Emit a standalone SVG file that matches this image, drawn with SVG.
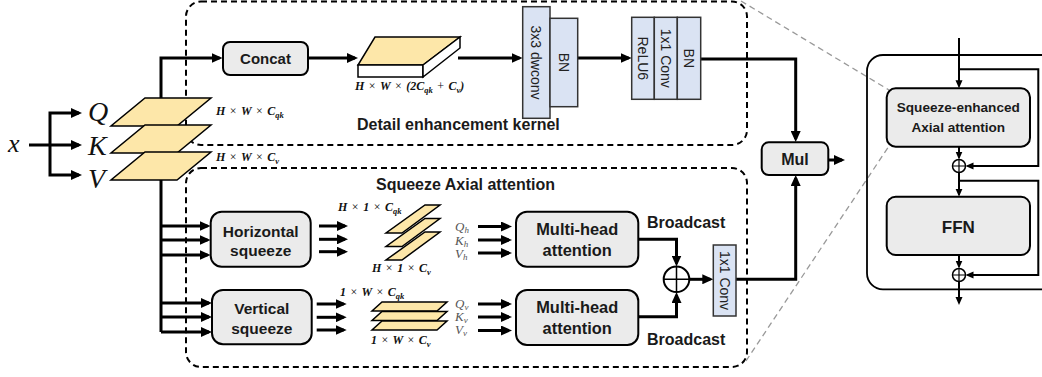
<svg xmlns="http://www.w3.org/2000/svg" width="1042" height="377" viewBox="0 0 1042 377">
<style>
.box{fill:#ebebeb;stroke:#000;stroke-width:2}
.blue{fill:#dae3f3;stroke:#333;stroke-width:1.5}
.plane{fill:#fde7a9;stroke:#000;stroke-width:1.5;stroke-linejoin:miter}
.white{fill:#fff;stroke:#000;stroke-width:1.5}
.dash{fill:none;stroke:#000;stroke-width:2;stroke-dasharray:6 4}
.zoom{fill:none;stroke:#999;stroke-width:1.3;stroke-dasharray:6 4}
.wire{fill:none;stroke:#000;stroke-width:3}
.wire2{fill:none;stroke:#000;stroke-width:2}
.lbl{font-family:"Liberation Sans",Arial,sans-serif;font-weight:bold;fill:#1a1a1a;text-anchor:middle}
.title{font-family:"Liberation Sans",Arial,sans-serif;font-weight:bold;fill:#1a1a1a;font-size:16px}
.rot{font-family:"Liberation Sans",Arial,sans-serif;font-size:14px;fill:#222;text-anchor:middle}
.math{font-family:"Liberation Serif","Times New Roman",serif;font-weight:bold;font-style:italic;font-size:12px;fill:#111;word-spacing:1.5px}
.op{font-weight:normal;font-style:normal}
.sub{font-size:8.5px}
.var{font-family:"Liberation Serif","Times New Roman",serif;font-style:italic;fill:#111}
.qkv{font-family:"Liberation Serif","Times New Roman",serif;font-style:italic;font-size:13px;fill:#555}
</style>
<defs>
<marker id="ah" markerUnits="userSpaceOnUse" markerWidth="12" markerHeight="10" refX="8" refY="5" orient="auto"><path d="M0,0 L11,5 L0,10 z" fill="#000"/></marker>
<marker id="as" markerUnits="userSpaceOnUse" markerWidth="9" markerHeight="8" refX="6" refY="3.5" orient="auto"><path d="M0,0 L8,3.5 L0,7 z" fill="#000"/></marker>
</defs>

<g id="frames">
<rect class="dash" x="186" y="1.5" width="561" height="143.5" rx="15"/>
<rect class="dash" x="186" y="168" width="561" height="199" rx="15"/>
<path class="zoom" d="M741,1 L889,90"/>
<path class="zoom" d="M746,361 L889,146"/>
<rect x="867" y="55" width="200" height="234.3" rx="16" fill="none" stroke="#000" stroke-width="1.8"/>
<text class="title" x="357" y="130">Detail enhancement kernel</text>
<text class="title" x="376" y="190">Squeeze Axial attention</text>
</g>

<g id="connectors">
<path class="wire" d="M29,145 H79" marker-end="url(#ah)"/>
<path class="wire" d="M50,145 V113 H79" marker-end="url(#ah)"/>
<path class="wire" d="M50,145 V175 H79" marker-end="url(#ah)"/>
<path class="wire" d="M161,332 V58 H219.5" marker-end="url(#ah)"/>
<path class="wire" d="M161,226 H207.5" marker-end="url(#ah)"/>
<path class="wire" d="M161,240 H207.5" marker-end="url(#ah)"/>
<path class="wire" d="M161,255 H207.5" marker-end="url(#ah)"/>
<path class="wire" d="M161,303 H209" marker-end="url(#ah)"/>
<path class="wire" d="M161,317 H209" marker-end="url(#ah)"/>
<path class="wire" d="M161,332 H209" marker-end="url(#ah)"/>
<path class="wire" d="M308,58 H355" marker-end="url(#ah)"/>
<path class="wire" d="M458,58 H519.5" marker-end="url(#ah)"/>
<path class="wire" d="M577.7,58 H628.7" marker-end="url(#ah)"/>
<path class="wire" d="M700.7,59 H795.7 V139" marker-end="url(#ah)"/>
<path class="wire" d="M828.3,160 H842" marker-end="url(#ah)"/>
<path class="wire" d="M319,226 H345" marker-end="url(#ah)"/>
<path class="wire" d="M319,239.3 H345" marker-end="url(#ah)"/>
<path class="wire" d="M319,251.7 H345" marker-end="url(#ah)"/>
<path class="wire" d="M316.7,304 H343.7" marker-end="url(#ah)"/>
<path class="wire" d="M316.7,317.3 H343.7" marker-end="url(#ah)"/>
<path class="wire" d="M316.7,330 H343.7" marker-end="url(#ah)"/>
<path class="wire" d="M478,226.5 H509" marker-end="url(#ah)"/>
<path class="wire" d="M478,240 H509" marker-end="url(#ah)"/>
<path class="wire" d="M478,253 H509" marker-end="url(#ah)"/>
<path class="wire" d="M478,304 H509" marker-end="url(#ah)"/>
<path class="wire" d="M478,317 H509" marker-end="url(#ah)"/>
<path class="wire" d="M478,330.5 H509" marker-end="url(#ah)"/>
<path class="wire" d="M638.3,239.3 H676.5 V263.5" marker-end="url(#ah)"/>
<path class="wire" d="M638.3,316.7 H676.5 V295" marker-end="url(#ah)"/>
<path class="wire" d="M689.3,279.3 H710.3" marker-end="url(#ah)"/>
<path class="wire" d="M736,279.3 H795.7 V178" marker-end="url(#ah)"/>
<path class="wire2" d="M959,38 V86.3" marker-end="url(#as)"/>
<path class="wire2" d="M959,69.3 H1038.3 V166 H967.5" marker-end="url(#as)"/>
<path class="wire2" d="M959,146.7 V157.5" marker-end="url(#as)"/>
<path class="wire2" d="M959,172.5 V194.7" marker-end="url(#as)"/>
<path class="wire2" d="M959,180.7 H1038.3 V275 H967.5" marker-end="url(#as)"/>
<path class="wire2" d="M959,255 V266.5" marker-end="url(#as)"/>
<path class="wire2" d="M959,281.5 V303" marker-end="url(#as)"/>
</g>

<g id="input">
<text class="var" x="8" y="152" font-size="26">x</text>
<text class="var" x="88" y="121" font-size="28">Q</text>
<text class="var" x="88" y="155" font-size="28">K</text>
<text class="var" x="88" y="188" font-size="28">V</text>
</g>

<g id="qkv-planes">
<polygon class="plane" points="145,98 211,98 177,126 111,126"/>
<polygon class="plane" points="145,125 211,125 177,153 111,153"/>
<polygon class="plane" points="145,152 211,152 177,180 111,180"/>
<text class="math" x="216" y="115">H <tspan class="op">×</tspan> W <tspan class="op">×</tspan> C<tspan class="sub" dy="3">qk</tspan></text>
<text class="math" x="216" y="161">H <tspan class="op">×</tspan> W <tspan class="op">×</tspan> C<tspan class="sub" dy="3">v</tspan></text>
</g>

<g id="concat">
<rect class="box" x="223" y="42" width="85" height="33" rx="7"/>
<text class="lbl" x="265.5" y="64" font-size="15">Concat</text>
</g>

<g id="cuboid">
<polygon class="plane" points="375,37 460,37 423,65 358,65"/>
<polygon class="white" points="358,65 423,65 423,77 358,77"/>
<polygon class="white" points="423,65 460,37 460,48 423,77"/>
<text class="math" x="355" y="90">H <tspan class="op">×</tspan> W <tspan class="op">×</tspan> (2C<tspan class="sub" dy="3">qk</tspan><tspan dy="-3"> </tspan><tspan class="op">+</tspan> C<tspan class="sub" dy="3">v</tspan><tspan dy="-3">)</tspan></text>
</g>

<g id="dwconv">
<rect class="blue" x="522.7" y="6.7" width="27.3" height="111.6"/>
<rect class="blue" x="550" y="18.3" width="27.7" height="88.4"/>
<text class="rot" transform="translate(536.3,62.5) rotate(90)" x="0" y="5">3x3 dwconv</text>
<text class="rot" transform="translate(563.8,62.5) rotate(90)" x="0" y="5">BN</text>
</g>

<g id="pwconv">
<rect class="blue" x="631.7" y="17.3" width="22.6" height="82"/>
<rect class="blue" x="654.3" y="17.3" width="23" height="82"/>
<rect class="blue" x="677.3" y="17.3" width="23.4" height="82"/>
<text class="rot" transform="translate(643,58.3) rotate(90)" x="0" y="5">ReLU6</text>
<text class="rot" transform="translate(665.8,58.3) rotate(90)" x="0" y="5">1x1 Conv</text>
<text class="rot" transform="translate(689,58.3) rotate(90)" x="0" y="5">BN</text>
</g>

<g id="mul">
<rect class="box" x="761.7" y="142.3" width="66.6" height="32.7" rx="7"/>
<text class="lbl" x="795" y="165" font-size="16">Mul</text>
</g>

<g id="hsqueeze">
<rect class="box" x="210.7" y="211.7" width="100" height="55" rx="11"/>
<text class="lbl" x="260.7" y="236.5" font-size="15.5">Horizontal</text>
<text class="lbl" x="260.7" y="256" font-size="15.5">squeeze</text>
</g>

<g id="vsqueeze">
<rect class="box" x="212" y="290" width="99.7" height="54.3" rx="11"/>
<text class="lbl" x="261.8" y="313.5" font-size="15.5">Vertical</text>
<text class="lbl" x="261.8" y="334" font-size="15.5">squeeze</text>
</g>

<g id="h-planes">
<polygon class="plane" points="425,205 440,205 402,233 386,233"/>
<polygon class="plane" points="425,218.5 440,218.5 402,246.5 386,246.5"/>
<polygon class="plane" points="425,232 440,232 402,260 386,260"/>
<text class="math" x="338" y="211">H <tspan class="op">×</tspan> 1 <tspan class="op">×</tspan> C<tspan class="sub" dy="3">qk</tspan></text>
<text class="math" x="372" y="272">H <tspan class="op">×</tspan> 1 <tspan class="op">×</tspan> C<tspan class="sub" dy="3">v</tspan></text>
<text class="qkv" x="455" y="231">Q<tspan font-size="9" dy="2">h</tspan></text>
<text class="qkv" x="455" y="244.5">K<tspan font-size="9" dy="2">h</tspan></text>
<text class="qkv" x="455" y="257.5">V<tspan font-size="9" dy="2">h</tspan></text>
</g>

<g id="v-planes">
<polygon class="plane" points="382,302 447,302 437,311 372,311"/>
<polygon class="plane" points="382,311.5 447,311.5 437,320.5 372,320.5"/>
<polygon class="plane" points="382,321 447,321 437,330 372,330"/>
<text class="math" x="340" y="295.5">1 <tspan class="op">×</tspan> W <tspan class="op">×</tspan> C<tspan class="sub" dy="3">qk</tspan></text>
<text class="math" x="371" y="344">1 <tspan class="op">×</tspan> W <tspan class="op">×</tspan> C<tspan class="sub" dy="3">v</tspan></text>
<text class="qkv" x="455" y="307.5">Q<tspan font-size="9" dy="2">v</tspan></text>
<text class="qkv" x="455" y="321">K<tspan font-size="9" dy="2">v</tspan></text>
<text class="qkv" x="455" y="334">V<tspan font-size="9" dy="2">v</tspan></text>
</g>

<g id="mha-h">
<rect class="box" x="516" y="211.7" width="122.3" height="55" rx="11"/>
<text class="lbl" x="577.2" y="235" font-size="16.4">Multi-head</text>
<text class="lbl" x="577.2" y="256" font-size="16.4">attention</text>
</g>

<g id="mha-v">
<rect class="box" x="516" y="290" width="122.3" height="55" rx="11"/>
<text class="lbl" x="577.2" y="313.3" font-size="16.4">Multi-head</text>
<text class="lbl" x="577.2" y="334.3" font-size="16.4">attention</text>
</g>

<g id="add">
<circle cx="676.5" cy="279.3" r="12.8" fill="#fff" stroke="#000" stroke-width="2"/>
<path d="M663.7,279.3 H689.3 M676.5,266.5 V292.1" stroke="#000" stroke-width="1.5"/>
<text class="title" x="647" y="228" font-size="14.3">Broadcast</text>
<text class="title" x="647" y="345" font-size="14.3">Broadcast</text>
</g>

<g id="conv1x1">
<rect class="blue" x="713.3" y="245" width="22.7" height="71"/>
<text class="rot" transform="translate(724.7,280.5) rotate(90)" x="0" y="5">1x1 Conv</text>
</g>

<g id="sea">
<rect class="box" x="886.7" y="88.3" width="143.3" height="58.4" rx="9"/>
<text class="lbl" x="958.3" y="112" font-size="13.6">Squeeze-enhanced</text>
<text class="lbl" x="958.3" y="132" font-size="13.6">Axial attention</text>
</g>

<g id="ffn">
<rect class="box" x="886.7" y="196.7" width="143.3" height="58.3" rx="9"/>
<text class="lbl" x="958.3" y="233" font-size="17">FFN</text>
</g>

<g id="res-adds">
<circle cx="959" cy="166" r="6.5" fill="#fff" stroke="#000" stroke-width="1.5"/>
<path d="M952.5,166 H965.5 M959,159.5 V172.5" stroke="#000" stroke-width="1.2"/>
<circle cx="959" cy="275" r="6.5" fill="#fff" stroke="#000" stroke-width="1.5"/>
<path d="M952.5,275 H965.5 M959,268.5 V281.5" stroke="#000" stroke-width="1.2"/>
</g>
</svg>
